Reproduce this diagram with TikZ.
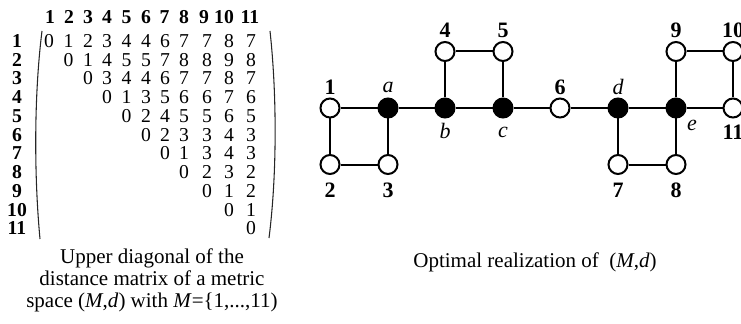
\documentclass[tikz,border=0pt]{standalone}
\usepackage{fontspec}
\setmainfont{Liberation Serif}
\usetikzlibrary{calc}
\begin{document}
\begin{tikzpicture}[x=0.75pt,y=-0.75pt,
  vtx/.style={circle,draw=black,line width=1.5pt,minimum size=14.25pt,inner sep=0pt},
  open/.style={vtx,fill=white},
  hub/.style={vtx,fill=black},
  edge/.style={line width=1.5pt},
  entry/.style={inner sep=0pt,font=\fontsize{14.75pt}{16pt}\selectfont},
  idx/.style={inner sep=0pt,font=\fontsize{14.75pt}{16pt}\selectfont\bfseries},
  vlbl/.style={inner sep=0pt,font=\fontsize{16.5pt}{18pt}\selectfont\bfseries},
  ilbl/.style={inner sep=0pt,font=\fontsize{16.5pt}{18pt}\selectfont\itshape},
  caption/.style={align=center,inner sep=0pt,font=\fontsize{15.75pt}{16.5pt}\selectfont},
  paren/.style={line width=0.8pt,black!85}
]
\useasboundingbox (0,0) rectangle (741,324);

% ---------- distance matrix ----------
\def\colx{{49,68.5,88,107,126.5,146,165,184,207,229,251}}
\def\hdrx{{50,69,88,107,126.5,146,164.5,184,204,224,250}}
\foreach \c in {1,...,11}{
  \pgfmathsetmacro\xx{\hdrx[\c-1]}
  \node[idx] (col\c) at (\xx,17) {\c};
  \node[idx] (row\c) at (17,{41+18.75*(\c-1)}) {\c};
}
\foreach \r/\vals in {
  1/{0,1,2,3,4,4,6,7,7,8,7},
  2/{0,1,4,5,5,7,8,8,9,8},
  3/{0,3,4,4,6,7,7,8,7},
  4/{0,1,3,5,6,6,7,6},
  5/{0,2,4,5,5,6,5},
  6/{0,2,3,3,4,3},
  7/{0,1,3,4,3},
  8/{0,2,3,2},
  9/{0,1,2},
  10/{0,1},
  11/{0}}{
  \foreach \v [count=\k from \r] in \vals {
    \pgfmathsetmacro\xx{\colx[\k-1]}
    \node[entry] (m\r-\k) at (\xx,{41+18.75*(\r-1)}) {\v};
  }
}
% matrix brackets
\draw[paren] (42,31) .. controls (34,95) and (34,175) .. (40,239);
\draw[paren] (270,31) .. controls (277,95) and (277,175) .. (269,238);

\node[caption] (mcap) at (152,280) {Upper diagonal of the\\distance matrix of a metric\\space (\textit{M},\textit{d}) with \textit{M}=\{1,...,11)};

% ---------- realization graph ----------
\node[open] (n1) at (330,108) {};
\node[hub]  (a)  at (388,108) {};
\node[hub]  (b)  at (445,108) {};
\node[hub]  (c)  at (503,108) {};
\node[open] (n6) at (560,108) {};
\node[hub]  (d)  at (618,108) {};
\node[hub]  (e)  at (676,108) {};
\node[open] (n11) at (733,108) {};
\node[open] (n2) at (330,164.5) {};
\node[open] (n3) at (388,164.5) {};
\node[open] (n4) at (445,51.5) {};
\node[open] (n5) at (503,51.5) {};
\node[open] (n7) at (618,164.5) {};
\node[open] (n8) at (676,164.5) {};
\node[open] (n9) at (676,51.5) {};
\node[open] (n10) at (733,51.5) {};

\draw[edge] (n1) -- (a) -- (b) -- (c) -- (n6) -- (d) -- (e) -- (n11);
\draw[edge] (n1) -- (n2) -- (n3) -- (a);
\draw[edge] (b) -- (n4) -- (n5) -- (c);
\draw[edge] (d) -- (n7) -- (n8) -- (e);
\draw[edge] (e) -- (n9) -- (n10) -- (n11);

% vertex labels
\node[vlbl] (t1)  at ($(n1)+(0,-21)$) {1};
\node[vlbl] (t2)  at ($(n2)+(0,26)$) {2};
\node[vlbl] (t3)  at ($(n3)+(0,26)$) {3};
\node[vlbl] (t4)  at ($(n4)+(0,-21)$) {4};
\node[vlbl] (t5)  at ($(n5)+(0,-21)$) {5};
\node[vlbl] (t6)  at ($(n6)+(0,-21)$) {6};
\node[vlbl] (t7)  at ($(n7)+(0,26)$) {7};
\node[vlbl] (t8)  at ($(n8)+(0,26)$) {8};
\node[vlbl] (t9)  at ($(n9)+(0,-21)$) {9};
\node[vlbl] (t10) at ($(n10)+(0,-21)$) {10};
\node[vlbl] (t11) at ($(n11)+(0,24)$) {11};
\node[ilbl] (ta)  at ($(a)+(0,-21)$) {a};
\node[ilbl] (tb)  at ($(b)+(0,23)$) {b};
\node[ilbl] (tc)  at ($(c)+(0,24)$) {c};
\node[ilbl] (td)  at ($(d)+(0,-21)$) {d};
\node[ilbl] (te)  at ($(e)+(16,17)$) {e};

\node[caption] (gcap) at (535,262) {Optimal realization of~ (\textit{M},\textit{d})};
\end{tikzpicture}
\end{document}
